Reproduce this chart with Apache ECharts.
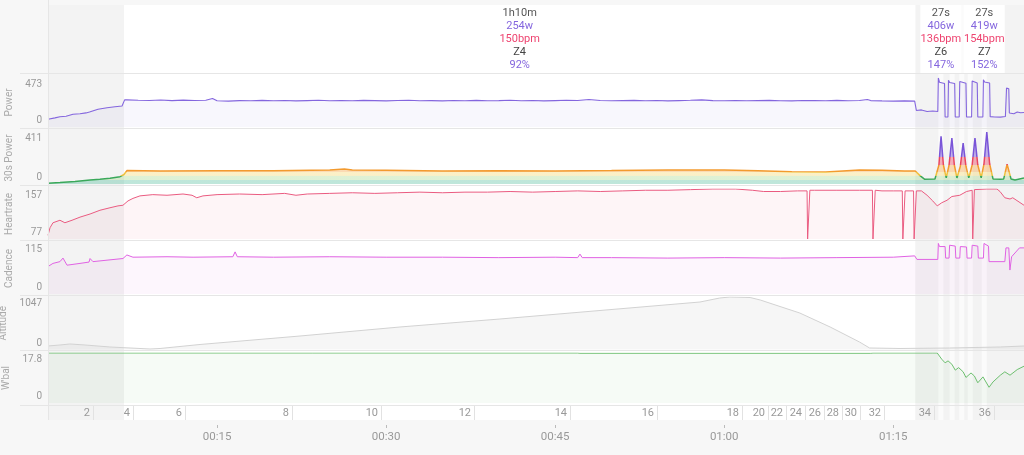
<!DOCTYPE html>
<html><head><meta charset="utf-8">
<script src="https://cdn.jsdelivr.net/npm/echarts@6/dist/echarts.min.js"></script>
<style>html,body{margin:0;padding:0;background:#f7f7f7;}#c{width:1024px;height:455px;}</style>
</head><body><div id="c"></div>
<script>
// ---------- data (time in minutes) ----------
const power = [
[0,74],[0.62,88],[1.06,99],[1.6,104],[2.22,123],[2.84,128],[3.37,136],[3.68,145],[3.77,164],[4.44,172],[5.24,186],[5.94,195],[6.57,203],[6.8,262],
[7,262],[8,258],[9,256],[10,261],[11,255],[12,259],[13,256],[14,258],[14.6,276],[15,253],[16,250],[17,255],[18,253],[19,257],[20,254],[21,256],[22,252],[23,255],[24,258],[25,254],[26,256],[27,253],[28,257],[29,255],[30,252],[31,256],[32,258],[33,254],[34,255],[35,252],[36,256],[37,254],[38,257],[39,253],[40,255],[41,258],[42,254],[43,256],[44,252],[45,255],[46,258],[47,256],[48,266],[49,256],[50,253],[51,255],[52,257],[53,254],[54,256],[55,252],[56,255],[57,258],[58,262],[59,255],[60,254],[61,256],[62,253],[63,255],[64,257],[65,254],[66,252],[67,256],[68,255],[69,253],[70,257],[71,254],[72,256],[72.7,266],[73,255],[74,252],[75,250],[76,252],[76.9,250],
[77.05,160],[77.5,165],[78,150],[78.5,155],[78.95,150],[79.0,473],[79.1,432],[79.55,420],[79.6,97],[79.85,97],[79.9,450],[80.0,430],[80.45,420],[80.5,97],[80.85,97],[80.9,440],[81.0,432],[81.45,422],[81.5,97],[81.95,97],[82.0,445],[82.1,432],[82.45,424],[82.5,97],[82.95,97],[83.0,455],[83.1,435],[83.55,425],[83.6,100],[84.0,97],[84.5,95],[84.95,102],[85.05,376],[85.25,368],[85.3,135],[85.7,128],[86.0,145],[86.3,138],[86.6,140]
];
const power30 = [
[0,6],[1.06,12],[2.4,20],[3.73,32],[4.6,37],[5.5,45],[6.39,58],[6.74,75],[7.0,106],[10,103],[15,104],[20,105],[25,111],[26.3,119],[27,110],[30,108],[35,103],[40,104],[45,103],[50,106],[55,111],[60,110],[63,104],[66,97],[69,95],[72,110],[74,108],[76,103],[76.95,103],[77.4,64],[77.8,37],[78.7,40],
[78.8,40],[79.05,150],[79.24,376],[79.45,150],[79.7,48],[79.95,150],[80.2,363],[80.42,150],[80.65,48],[80.95,140],[81.2,324],[81.45,140],[81.7,48],[82.0,150],[82.25,363],[82.5,150],[82.8,48],[83.05,160],[83.3,411],[83.55,160],[83.85,40],[84.5,37],[84.8,40],[85.1,157],[85.45,40],[85.8,32],[86.6,48]
];
const heartrate = [
[0,83],[0.18,95],[0.44,103],[1.06,107],[1.5,103],[2.13,107],[2.84,112],[3.73,117],[4.61,123],[5.5,127],[6.21,130],[6.65,131],[7.1,138],[7.54,142],[8.16,146],[9.3,148],[10.56,147],[11.98,149],[12.78,147],[13.2,143],[13.75,146],[15,148],[17,149],[19,148],[21,150],[22,147],[23,149],[25,150],[27,151],[29,150],[31,151],[33,152],[35,151],[37,152],[39,152],[41,153],[43,152],[45,153],[47,154],[49,153],[51,154],[53,155],[55,155],[57,156],[59,157],[61,157],[62.5,155],[63.5,153],[65,153],[66.5,154],[67.35,154],[67.4,77],[67.55,77],[67.6,155],[68,155],[70,155],[72,155],[73.15,155],[73.2,77],[73.35,77],[73.4,155],[74,154],[75,154],[75.8,154],[75.85,77],[76.0,77],[76.05,154],[76.4,154],[76.8,154],[76.85,77],[77.0,77],[77.05,154],[77.5,154],[78.0,147],[78.5,138],[78.9,130],[79.05,127],[79.3,135],[79.77,139],[80.2,145],[80.9,147],[81.5,153],[82.0,155],[82.05,77],[82.15,77],[82.2,156],[83.3,157],[84.2,157],[84.47,153],[84.9,143],[85.36,141],[85.6,143],[86.6,131]
];
const cadence = [
[0,62],[0.44,69],[1.06,73],[1.33,81],[1.69,65],[2.84,69],[3.64,72],[3.73,80],[3.99,73],[5.5,77],[6.65,80],[7.0,88],[7.54,83],[10.56,84],[12.87,83],[16.4,84],[16.6,95],[16.8,84],[20,83],[25,84],[30,83],[35,83],[40,82],[45,83],[47.0,82],[47.2,90],[47.4,82],[50,82],[55,81],[60,82],[65,81],[70,82],[75,83],[76.9,86],[77.1,78],[78.95,78],[79.0,114],[79.1,107],[79.6,107],[79.65,81],[79.95,81],[80.0,110],[80.5,108],[80.55,81],[80.9,81],[80.95,107],[81.5,106],[81.55,81],[81.95,81],[82.0,110],[82.5,108],[82.55,81],[83.0,81],[83.05,114],[83.45,108],[83.5,73],[84.9,73],[85.0,104],[85.25,104],[85.35,54],[85.5,84],[86.2,104],[86.6,104]
];
const altitude = [
[0,70],[1.06,90],[1.95,110],[3.28,90],[5.5,50],[7.28,30],[9.05,10],[9.94,20],[13.49,100],[22.36,269],[31.23,449],[40.1,608],[48.98,778],[57.85,947],[59.6,1027],[60.5,1047],[62.3,1037],[63.2,987],[66.7,728],[69.4,449],[72.0,150],[72.9,30],[75.6,20],[80.0,30],[84.5,50],[86.6,70]
];
const wbal = [
[0,17.8],[47,17.8],[47.2,17.7],[73,17.7],[73.2,17.8],[78.5,17.8],[78.9,17.8],[79.3,15.6],[79.6,14.3],[79.86,15.0],[80.2,13.8],[80.5,11.7],[80.8,12.6],[81.2,11.1],[81.45,9.1],[81.9,10.7],[82.2,9.6],[82.5,7.2],[82.96,9.3],[83.5,5.6],[83.85,7.5],[84.5,9.9],[84.9,11.1],[85.36,9.9],[86.0,11.9],[86.6,13.1]
];
// intervals
const intervalStart = [6.75, 79.0, 80.0, 80.85, 81.6, 82.85];
const intervalEnd   = [76.95, 79.45, 80.45, 81.3, 82.05, 83.3];
const headerIdx  = [0, 1, 5];
const hdrDur   = ['1h10m', '27s', '27s'];
const hdrWatts = ['254w', '406w', '419w'];
const hdrHr    = ['150bpm', '136bpm', '154bpm'];
const hdrZone  = ['Z4', 'Z6', 'Z7'];
const hdrPct   = ['92%', '147%', '152%'];
// laps
const lapEnds   = [3.99, 7.54, 12.16, 21.65, 29.55, 37.80, 46.32, 54.04, 61.58, 63.89, 65.48, 67.17, 68.86, 70.45, 72.05, 74.18, 78.62, 83.94];
const lapLabels = ['2','4','6','8','10','12','14','16','18','20','22','24','26','28','30','32','34','36'];
// tick labels
const powerTicks = [0, 473];
const p30Ticks = [0, 411];
const hrTicks = [77, 157];
const cadTicks = [0, 115];
const altTicks = [0, 1047];
const wbalTicks = [0, 17.8];
const timeTicks = [15, 30, 45, 60, 75];

// ---------- chart ----------
const XMAX = 86.6;
const FONT = 'Roboto, "Noto Sans", sans-serif';
const chart = echarts.init(document.getElementById('c'));

const grids = [
  {top:5, height:415},   // 0 background highlights
  {top:5, height:68},    // 1 header
  {top:78, height:49},   // 2 power
  {top:132, height:52},  // 3 30s power
  {top:189, height:50},  // 4 heartrate
  {top:243, height:51},  // 5 cadence
  {top:297, height:52.5},// 6 altitude
  {top:353, height:50},  // 7 wbal
  {top:405, height:15},  // 8 laps
  {top:421, height:4}    // 9 time
].map((g,i)=>Object.assign({left:48, right:0, containLabel:false, outerBoundsMode:'none',
  show:i===0, backgroundColor:'#f3f3f3', borderWidth:0}, g));

function fmtTime(v){const h=Math.floor(v/60), m=Math.round(v-h*60);return String(h).padStart(2,'0')+':'+String(m).padStart(2,'0');}

const xAxes = grids.map((g,i)=>({gridIndex:i, type:'value', min:0, max:XMAX, show:false}));
xAxes[9] = {gridIndex:9, type:'value', min:0, max:XMAX, interval:15,
  axisLine:{show:false}, splitLine:{show:false},
  axisTick:{show:true, length:3, customValues:timeTicks, lineStyle:{color:'#bbb'}},
  axisLabel:{customValues:timeTicks, color:'#999', fontSize:11.5, margin:6, fontFamily:FONT, formatter:fmtTime}};

function yAx(gi, name, ticks){
  const min = ticks[0], max = ticks[1];
  return {gridIndex:gi, type:'value', min, max, name, nameLocation:'middle', nameRotate:90, nameGap:32,
    nameTextStyle:{color:'#aaa', fontSize:10, fontFamily:FONT},
    axisLine:{show:false}, axisTick:{show:false}, splitLine:{show:false},
    axisLabel:{customValues:ticks, color:'#999', fontSize:10, margin:6, lineHeight:13, fontFamily:FONT,
      formatter:(v)=> v===max ? '\n'+v : v+'\n'}};
}
const yAxes = [
  {gridIndex:0, type:'value', min:0, max:1, show:false},
  {gridIndex:1, type:'value', min:0, max:1, show:false},
  yAx(2,'Power',powerTicks),
  yAx(3,'30s Power',p30Ticks),
  yAx(4,'Heartrate',hrTicks),
  yAx(5,'Cadence',cadTicks),
  yAx(6,'Altitude',altTicks),
  yAx(7,"W'bal",wbalTicks),
  {gridIndex:8, type:'value', min:0, max:1, show:false},
  {gridIndex:9, type:'value', min:0, max:1, show:false}
];

function renderHighlight(params, api){
  const cs = params.coordSys;
  const x1 = api.coord([api.value(0),0])[0], x2 = api.coord([api.value(1),0])[0];
  const main = params.dataIndex === 0;
  return {type:'rect', shape:{x:x1, y:cs.y, width:x2-x1, height:cs.height},
    style:{fill: main ? '#ffffff' : 'rgba(255,255,255,0.65)'}};
}
function renderHeader(params, api){
  const cs = params.coordSys, k = params.dataIndex;
  const x1 = api.coord([api.value(0),0])[0], x2 = api.coord([api.value(1),0])[0];
  const cx = (x1+x2)/2, w = Math.max(x2-x1, 41);
  const texts = [hdrDur[k], hdrWatts[k], hdrHr[k], hdrZone[k], hdrPct[k]];
  const colors = ['#555','#8466de','#ee4470','#444','#8466de'];
  const ch = [{type:'rect', shape:{x:cx-w/2, y:cs.y, width:w, height:cs.height}, style:{fill:'#fff'}}];
  texts.forEach((t,j)=>ch.push({type:'text', x:cx, y:cs.y+8.5+j*13,
    style:{text:t, fill:colors[j], font:'11px '+FONT, align:'center', verticalAlign:'middle'}}));
  return {type:'group', children:ch};
}
function renderLap(params, api){
  const cs = params.coordSys;
  const x = Math.round(api.coord([api.value(0),0])[0]);
  return {type:'group', children:[
    {type:'line', shape:{x1:x+0.5, y1:cs.y, x2:x+0.5, y2:cs.y+cs.height}, style:{stroke:'#e2e2e2', lineWidth:1}},
    {type:'text', x:x-3, y:cs.y+cs.height/2+0.5, style:{text:lapLabels[params.dataIndex], fill:'#999', font:'11px '+FONT, align:'right', verticalAlign:'middle'}}
  ]};
}
function line(gi, data, color, fill, w){
  return {type:'line', xAxisIndex:gi, yAxisIndex:gi, data, showSymbol:false, symbol:'none', clip:true, z:2,
    lineStyle:{color, width:w||1}, areaStyle:{color:fill, origin:'start'}, silent:true};
}
// 30s power zone gradient (global pixel coords of the 30s grid)
const P30_TOP = grids[3].top, P30_BOT = grids[3].top + grids[3].height;
function grad(stops){ return new echarts.graphic.LinearGradient(0, P30_BOT, 0, P30_TOP, stops, true); }
const lineGrad = grad([
  {offset:0,color:'#3aa85a'},{offset:0.15,color:'#3aa85a'},
  {offset:0.165,color:'#efc23f'},{offset:0.225,color:'#efc23f'},
  {offset:0.24,color:'#f39a2e'},{offset:0.36,color:'#f39a2e'},
  {offset:0.375,color:'#e9455f'},{offset:0.51,color:'#e9455f'},
  {offset:0.53,color:'#7a55d8'},{offset:1,color:'#7a55d8'}]);
const fillGrad = grad([
  {offset:0,color:'rgba(72,185,150,0.5)'},{offset:0.07,color:'rgba(72,185,150,0.5)'},
  {offset:0.085,color:'rgba(150,210,120,0.45)'},{offset:0.15,color:'rgba(150,210,120,0.45)'},
  {offset:0.165,color:'rgba(245,212,95,0.5)'},{offset:0.225,color:'rgba(245,212,95,0.5)'},
  {offset:0.24,color:'rgba(245,160,60,0.55)'},{offset:0.36,color:'rgba(245,160,60,0.55)'},
  {offset:0.375,color:'rgba(233,69,95,0.6)'},{offset:0.51,color:'rgba(233,69,95,0.6)'},
  {offset:0.53,color:'rgba(122,85,216,0.65)'},{offset:1,color:'rgba(122,85,216,0.65)'}]);

const sepYs = [73.5, 128.5, 185.5, 240.5, 295.5, 350.5, 405.5];
const graphics = sepYs.map(y=>({type:'line', z:5, silent:true, shape:{x1:20, y1:y, x2:1024, y2:y}, style:{stroke:'#e6e6e6', lineWidth:1}}));
graphics.push({type:'line', z:5, silent:true, shape:{x1:48.5, y1:0, x2:48.5, y2:420}, style:{stroke:'#e6e6e6', lineWidth:1}});

chart.setOption({
  animation:false,
  backgroundColor:'#f7f7f7',
  textStyle:{fontFamily:FONT},
  grid:grids, xAxis:xAxes, yAxis:yAxes,
  graphic:{elements:graphics},
  series:[
    {type:'custom', xAxisIndex:0, yAxisIndex:0, z:1, silent:true, renderItem:renderHighlight,
      encode:{x:[0,1]}, data:intervalStart.map((s,i)=>[s, intervalEnd[i]])},
    {type:'custom', xAxisIndex:1, yAxisIndex:1, z:3, silent:true, renderItem:renderHeader,
      encode:{x:[0,1]}, data:headerIdx.map(i=>[intervalStart[i], intervalEnd[i]])},
    line(2, power, '#8466de', 'rgba(132,102,222,0.08)', 1.1),
    {type:'line', xAxisIndex:3, yAxisIndex:3, data:power30, showSymbol:false, symbol:'none', clip:true, z:2, silent:true,
      lineStyle:{color:lineGrad, width:1.5}, areaStyle:{color:fillGrad, origin:'start'}},
    line(4, heartrate, '#ea5b80', 'rgba(234,91,128,0.09)'),
    line(5, cadence, '#e062e3', 'rgba(224,98,227,0.08)'),
    line(6, altitude, '#d2d2d2', 'rgba(170,170,170,0.15)'),
    line(7, wbal, '#6dbf6f', 'rgba(109,191,111,0.09)'),
    {type:'custom', xAxisIndex:8, yAxisIndex:8, z:3, silent:true, renderItem:renderLap,
      encode:{x:0}, data:lapEnds.map(t=>[t])}
  ]
});
</script></body></html>
